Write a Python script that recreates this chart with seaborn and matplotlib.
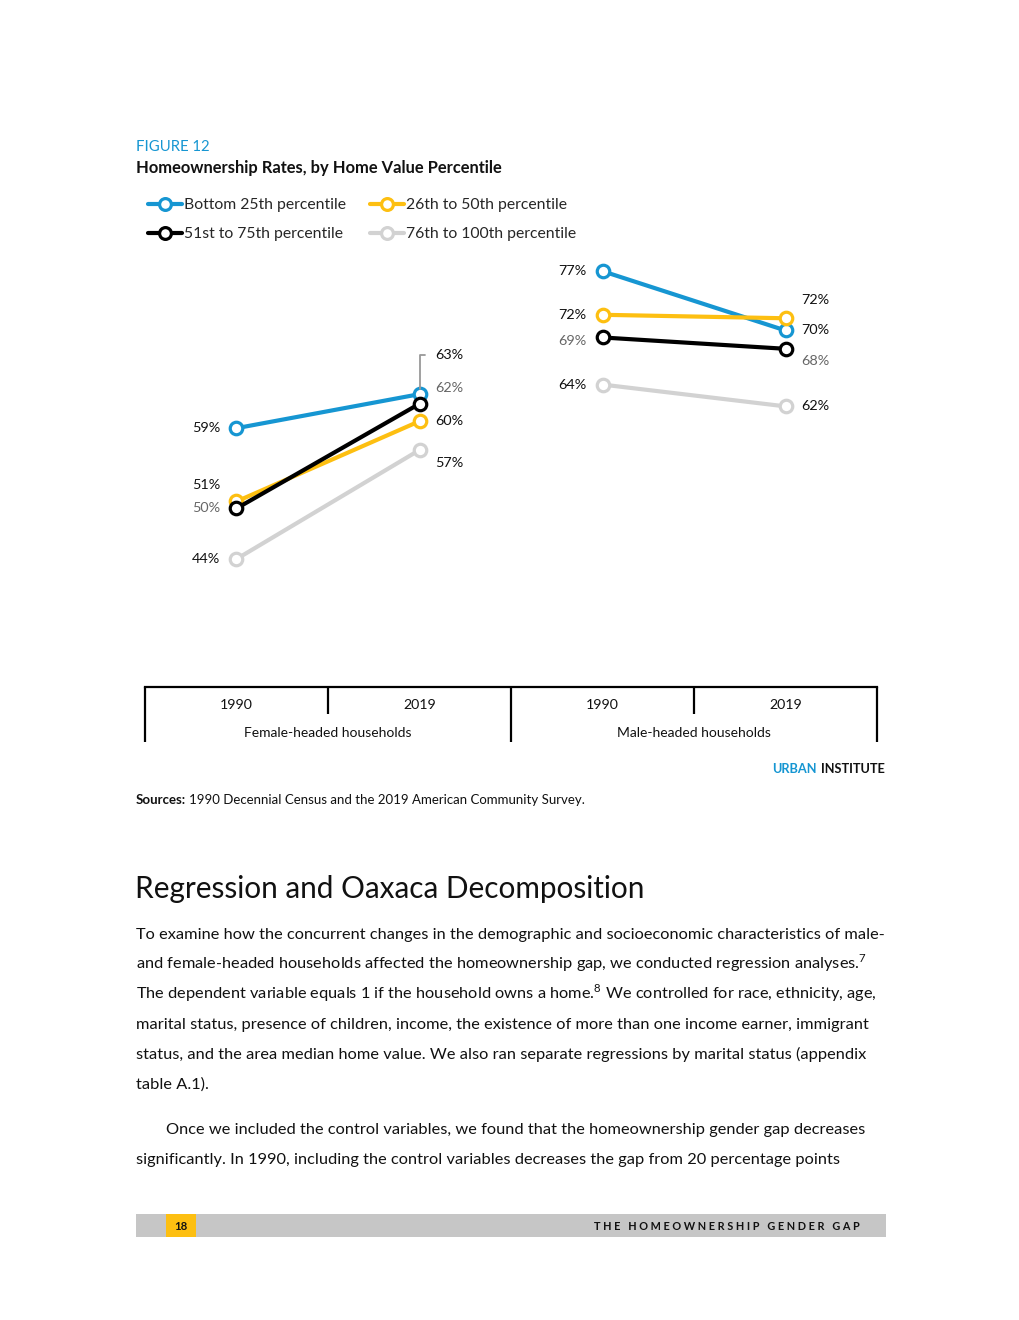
import pandas as pd
import numpy as np
import matplotlib
matplotlib.use("Agg")
import matplotlib.pyplot as plt
from matplotlib.lines import Line2D
from matplotlib.patches import Rectangle
import seaborn as sns

# chart data (homeownership rate, %)
groups = ["Female-headed households", "Male-headed households"]
years = ["1990", "2019"]
series = ["Bottom 25th percentile", "26th to 50th percentile",
          "51st to 75th percentile", "76th to 100th percentile"]
female = {
    "Bottom 25th percentile": [59.0, 62.9],
    "26th to 50th percentile": [50.6, 59.8],
    "51st to 75th percentile": [49.8, 61.8],
    "76th to 100th percentile": [44.0, 56.5],
}
male = {
    "Bottom 25th percentile": [77.0, 70.2],
    "26th to 50th percentile": [72.0, 71.6],
    "51st to 75th percentile": [69.4, 68.1],
    "76th to 100th percentile": [64.0, 61.5],
}
female_labels = {
    "Bottom 25th percentile": ["59%", "63%"],
    "26th to 50th percentile": ["51%", "60%"],
    "51st to 75th percentile": ["50%", "62%"],
    "76th to 100th percentile": ["44%", "57%"],
}
male_labels = {
    "Bottom 25th percentile": ["77%", "70%"],
    "26th to 50th percentile": ["72%", "72%"],
    "51st to 75th percentile": ["69%", "68%"],
    "76th to 100th percentile": ["64%", "62%"],
}

colors = {
    "Bottom 25th percentile": "#1696d2",
    "26th to 50th percentile": "#fdbf11",
    "51st to 75th percentile": "#000000",
    "76th to 100th percentile": "#d2d2d2",
}
label_colors = {
    "Bottom 25th percentile": "#111111",
    "26th to 50th percentile": "#111111",
    "51st to 75th percentile": "#666666",
    "76th to 100th percentile": "#111111",
}
# vertical label nudges in pixels (group, year)
nudges = {
    ("Female-headed households", "1990"): {"26th to 50th percentile": 16},
    ("Female-headed households", "2019"): {"Bottom 25th percentile": 39,
                                          "51st to 75th percentile": 16,
                                          "76th to 100th percentile": -13},
    ("Male-headed households", "1990"): {"51st to 75th percentile": -4},
    ("Male-headed households", "2019"): {"26th to 50th percentile": 18,
                                        "51st to 75th percentile": -12},
}

# long table
rows = []
for gi, (g, vals, labs) in enumerate([(groups[0], female, female_labels),
                                      (groups[1], male, male_labels)]):
    for s in series:
        for yi, yr in enumerate(years):
            rows.append({"group": g, "year": yr, "series": s, "pos": gi * 2 + yi,
                         "value": vals[s][yi], "label": labs[s][yi]})
df = pd.DataFrame(rows)

sns.set_style("white")
plt.rcParams["font.family"] = ["Lato", "DejaVu Sans"]
plt.rcParams["mathtext.fontset"] = "custom"
plt.rcParams["mathtext.rm"] = "Lato"

W, H = 1020, 1320
fig = plt.figure(figsize=(W / 100, H / 100), dpi=100)

def fx(px):
    return px / W

def fy(py):
    return 1 - py / H

ax = fig.add_axes([fx(145), fy(687), fx(877) - fx(145), fy(245) - fy(687)])

draw_order = ["76th to 100th percentile", "Bottom 25th percentile",
              "26th to 50th percentile", "51st to 75th percentile"]
for s in draw_order:
    sub = df[df["series"] == s]
    c = colors[s]
    sns.lineplot(data=sub, x="pos", y="value", units="group", estimator=None,
                 color=c, lw=3, marker="o", ms=9, mfc="white", mec=c, mew=2.3,
                 legend=False, ax=ax)

# point labels
for _, r in df.iterrows():
    dy = nudges.get((r["group"], r["year"]), {}).get(r["series"], 0)
    left = r["year"] == "1990"
    dx = -16 if left else 16
    kw = {}
    if r["group"] == groups[0] and r["year"] == "2019" and r["series"] == series[0]:
        kw["arrowprops"] = dict(arrowstyle="-", color="#999999", lw=1.3,
                                connectionstyle="angle,angleA=0,angleB=90,rad=0",
                                relpos=(0, 0.5), shrinkA=5, shrinkB=4)
    ax.annotate(r["label"], xy=(r["pos"], r["value"]), xytext=(dx, dy),
                textcoords="offset pixels", ha="right" if left else "left",
                va="center", fontsize=10.4, color=label_colors[r["series"]], **kw)

ax.set_xlim(-0.5, 3.5)
ax.set_ylim(29.33, 80)
ax.set_xlabel("")
ax.set_ylabel("")
ax.set_yticks([])
for sp in ["top", "left", "right"]:
    ax.spines[sp].set_visible(False)
ax.spines["bottom"].set_linewidth(1.6)
ax.spines["bottom"].set_color("black")
ax.set_xticks([-0.5, 1.5, 3.5])
ax.set_xticks([0.5, 2.5], minor=True)
ax.tick_params(axis="x", which="major", bottom=True, length=39.6, width=1.6,
               color="black", direction="out", labelbottom=False)
ax.tick_params(axis="x", which="minor", bottom=True, length=19.4, width=1.6,
               color="black", direction="out", labelbottom=False)
for gi, g in enumerate(groups):
    for yi, yr in enumerate(years):
        ax.annotate(yr, xy=(gi * 2 + yi, 0), xycoords=("data", "axes fraction"),
                    xytext=(0, -18), textcoords="offset pixels", ha="center",
                    va="center", fontsize=10.2, color="#111111")
    ax.annotate(g, xy=(gi * 2 + 0.5, 0), xycoords=("data", "axes fraction"),
                xytext=(0, -46), textcoords="offset pixels", ha="center",
                va="center", fontsize=10, color="#111111")

# legend
handles = {s: Line2D([], [], color=colors[s], lw=3, marker="o", ms=8.5, mfc="white",
                     mec=colors[s], mew=2.3) for s in series}
order = [series[0], series[2], series[1], series[3]]
fig.legend([handles[s] for s in order], order, loc="upper left",
           bbox_to_anchor=(fx(148), fy(198)), ncol=2, frameon=False,
           handlelength=2.17, handletextpad=0.13, columnspacing=1.5,
           labelspacing=0.98, fontsize=11.3, borderpad=0, borderaxespad=0)

# titles
fig.text(fx(136), fy(147), "FIGURE 12", color="#1696d2", fontsize=10.7, va="center")
fig.text(fx(136), fy(168), "Homeownership Rates, by Home Value Percentile",
         fontsize=11.9, fontweight="bold", va="center", color="#111111")

fig.text(fx(885), fy(769), "INSTITUTE", fontsize=9.2, fontweight="bold",
         ha="right", va="center", color="#111111")
fig.text(fx(817), fy(769), "URBAN", fontsize=9.2, fontweight="bold",
         ha="right", va="center", color="#1696d2")
fig.text(fx(136), fy(800), "Sources:", fontsize=9.5, fontweight="bold",
         va="center", color="#111111")
fig.text(fx(189), fy(800), "1990 Decennial Census and the 2019 American Community Survey.",
         fontsize=9.5, va="center", color="#111111")

# body text
fig.text(fx(135), fy(898), "Regression and Oaxaca Decomposition", fontsize=21.4,
         va="baseline", color="#111111")
body = [
    (136, 933, "To examine how the concurrent changes in the demographic and socioeconomic characteristics of male-"),
    (136, 963, "and female-headed households affected the homeownership gap, we conducted regression analyses.$^{7}$"),
    (136, 993, "The dependent variable equals 1 if the household owns a home.$^{8}$ We controlled for race, ethnicity, age,"),
    (136, 1023, "marital status, presence of children, income, the existence of more than one income earner, immigrant"),
    (136, 1053, "status, and the area median home value. We also ran separate regressions by marital status (appendix"),
    (136, 1083, "table A.1)."),
    (166, 1128, "Once we included the control variables, we found that the homeownership gender gap decreases"),
    (136, 1158, "significantly. In 1990, including the control variables decreases the gap from 20 percentage points"),
]
for x, y, t in body:
    fig.text(fx(x), fy(y + 6), t, fontsize=11.75, va="baseline", color="#111111")

# footer band
fig.add_artist(Rectangle((fx(136), fy(1237)), fx(886) - fx(136), fy(1214) - fy(1237),
                         transform=fig.transFigure, color="#c6c6c6", lw=0))
fig.add_artist(Rectangle((fx(166), fy(1237)), fx(196) - fx(166), fy(1214) - fy(1237),
                         transform=fig.transFigure, color="#fdbf11", lw=0))
fig.text(fx(181), fy(1226), "18", fontsize=8.2, fontweight="bold", ha="center",
         va="center", color="#111111")
fig.text(fx(860), fy(1226), " ".join("THE HOMEOWNERSHIP GENDER GAP"), fontsize=7.8,
         fontweight="bold", ha="right", va="center", color="#111111")

fig.savefig("out.png", dpi=100)
